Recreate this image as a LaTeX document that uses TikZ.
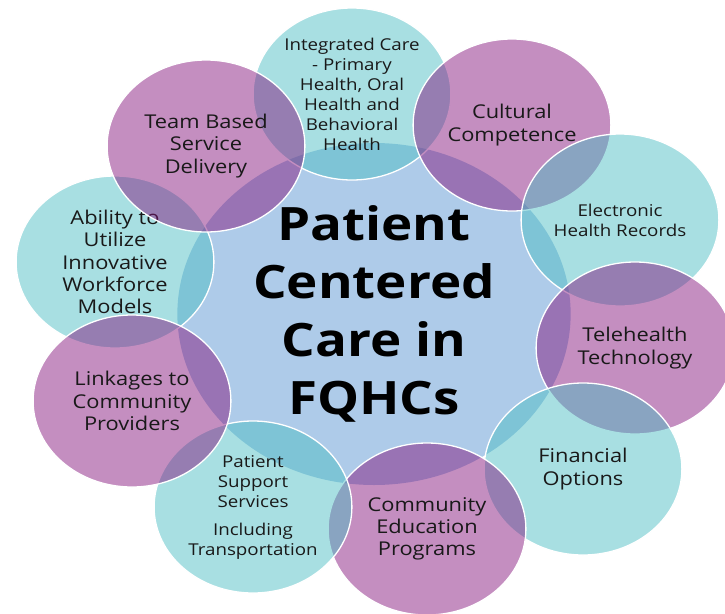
\documentclass[tikz,border=0pt]{standalone}
\usepackage{fontspec}
\setmainfont{Open Sans}
\usepackage{tikz}
\definecolor{hubblue}{RGB}{174,203,233}
\definecolor{tealring}{RGB}{74,190,195}
\definecolor{plumring}{RGB}{132,20,124}
\definecolor{inktext}{RGB}{25,25,25}

\begin{document}
\begin{tikzpicture}[x=1pt, y=-1pt,
  bubble/.style={circle, minimum size=172pt, inner sep=0pt, xscale=1.15, draw=white, line width=1.3pt,
    fill opacity=0.48, text opacity=1, text=inktext, align=center},
  bigtxt/.style={font=\fontsize{19}{22.3}\selectfont},
  smalltxt/.style={font=\fontsize{16.3}{20}\selectfont},
  tealbub/.style={bubble, fill=tealring},
  plumbub/.style={bubble, fill=plumring}]
  \fill[white] (0,0) rectangle (725,613);
  \clip (0,0) rectangle (725,613);
  % centre
  \node (hub) [circle, minimum size=342pt, inner sep=0pt, xscale=1.15, fill=hubblue, align=center,
    font=\fontsize{46}{58}\selectfont\bfseries] at (374,314) {Patient\\Centered\\Care in\\FQHCs};
  % ring, back to front
  \node (ability) [tealbub, bigtxt] at (115,262) {Ability to\\Utilize\\Innovative\\Workforce\\Models};
  \node (integrated) [tealbub, smalltxt] at (352,94) {Integrated Care\\- Primary\\Health, Oral\\Health and\\Behavioral\\Health};
  \node (cultural) [plumbub, bigtxt] at (512,125) {Cultural\\Competence};
  \node (ehr) [tealbub, smalltxt] at (620,220) {Electronic\\Health Records};
  \node (tele) [plumbub, bigtxt] at (635,348) {Telehealth\\Technology};
  \node (financial) [tealbub, bigtxt] at (583,469) {Financial\\Options};
  \node (community) [plumbub, bigtxt] at (427,529) {Community\\Education\\Programs};
  \node (support) [tealbub, smalltxt] at (253,507) {Patient\\Support\\Services\\[8pt]Including\\Transportation};
  \node (linkages) [plumbub, bigtxt] at (132,401) {Linkages to\\Community\\Providers};
  \node (team) [plumbub, bigtxt] at (206,146) {Team Based\\Service\\Delivery};
\end{tikzpicture}
\end{document}
